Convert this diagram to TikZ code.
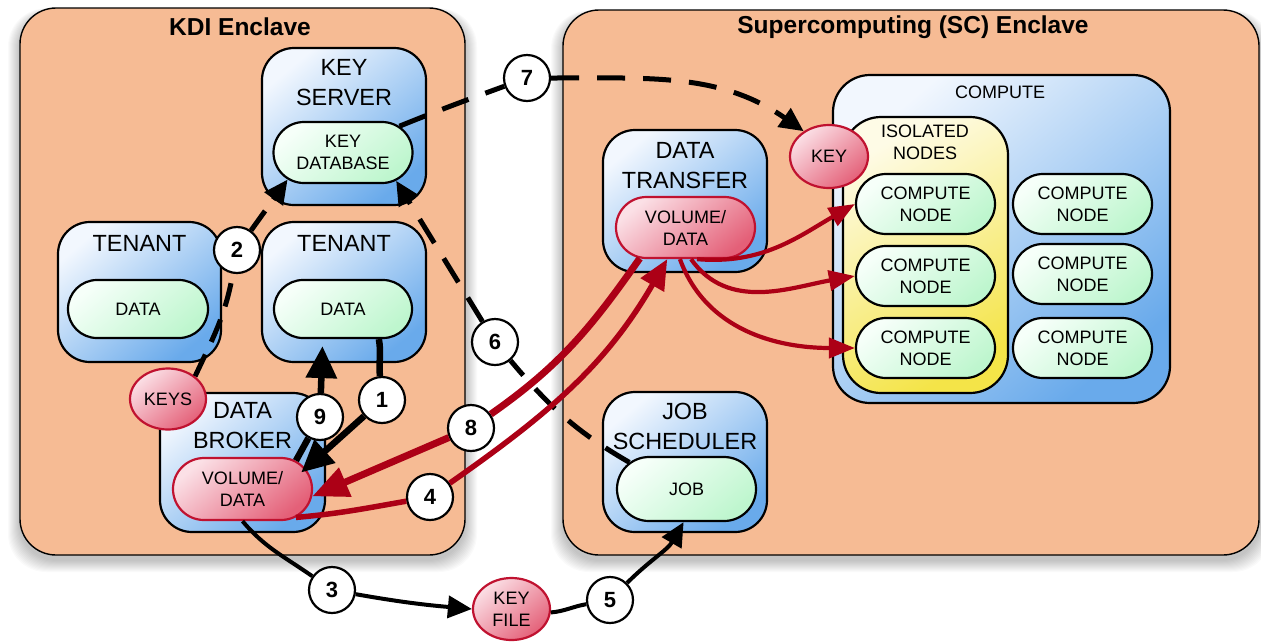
\documentclass[tikz,border=0pt]{standalone}
\usepackage{fontspec}
\setmainfont{Liberation Sans}
\usetikzlibrary{arrows.meta,shapes.misc,shapes.geometric}
\definecolor{encl}{RGB}{246,187,148}
\definecolor{blueT}{RGB}{242,247,254}
\definecolor{blueB}{RGB}{105,170,235}
\definecolor{greenT}{RGB}{246,255,249}
\definecolor{greenB}{RGB}{190,246,206}
\definecolor{redT}{RGB}{251,224,230}
\definecolor{redB}{RGB}{228,96,120}
\definecolor{redD}{RGB}{192,18,48}
\definecolor{yelT}{RGB}{254,251,230}
\definecolor{yelB}{RGB}{244,228,72}
\definecolor{arrRed}{RGB}{172,0,22}
\newcommand\encfont{\bfseries\fontsize{24.5}{28}\selectfont}
\newcommand\boxfont{\fontsize{23.4}{30}\selectfont}
\newcommand\infont{\fontsize{18}{22}\selectfont}
\newcommand\numfont{\bfseries\fontsize{22}{22}\selectfont}
\begin{document}
\begin{tikzpicture}[x=1pt,y=-1pt,
  enc/.style={rectangle,fill=encl,draw=black,line width=1.4pt,rounded corners=36pt,inner sep=0pt},
  bbox/.style={rectangle,rounded corners=32pt,draw=black,line width=2.2pt,top color=blueT,bottom color=blueB,shading angle=40,inner sep=0pt},
  ybox/.style={rectangle,rounded corners=38pt,draw=black,line width=2.2pt,top color=yelT,bottom color=yelB,shading angle=30,inner sep=0pt},
  gbox/.style={rounded rectangle,draw=black,line width=2.2pt,top color=greenT,bottom color=greenB,shading angle=40,inner sep=0pt,align=center,font=\infont,minimum width=139pt,minimum height=61pt},
  rbox/.style={rounded rectangle,draw=redD,line width=2.2pt,top color=redT,bottom color=redB,shading angle=40,inner sep=0pt,align=center,font=\infont,minimum width=139pt,minimum height=61pt},
  rell/.style={ellipse,draw=redD,line width=2.2pt,top color=redT,bottom color=redB,shading angle=40,inner sep=0pt,align=center,font=\infont,minimum width=77pt,minimum height=62pt},
  num/.style={circle,draw=black,fill=white,line width=2.2pt,minimum size=46pt,inner sep=0pt,font=\numfont},
  btxt/.style={align=center,inner sep=0pt,font=\boxfont},
  itxt/.style={align=center,inner sep=0pt,font=\infont},
  etxt/.style={inner sep=0pt,font=\encfont},
  dashk/.style={draw=black,line width=5pt,dash pattern=on 28pt off 18pt,-{Triangle[length=24pt,width=22pt]}},
  blkthick/.style={draw=black,line width=6.5pt,-{Triangle[length=32pt,width=30pt]}},
  blkmed/.style={draw=black,line width=4pt,-{Triangle[length=24pt,width=22pt]}},
  redthick/.style={draw=arrRed,line width=7pt,-{Triangle[length=36pt,width=30pt]}},
  redmed/.style={draw=arrRed,line width=5.5pt,-{Triangle[length=30pt,width=26pt]}},
  redthin/.style={draw=arrRed,line width=4.2pt,-{Triangle[length=26pt,width=20pt]}}
]
\useasboundingbox (0,0) rectangle (1261,641);
\fill[white] (0,0) rectangle (1261,641);
% soft shadows
\foreach \i in {1,...,12}{
  \fill[black,opacity=0.018,rounded corners=38pt] ({20-\i},{12-0.3*\i}) rectangle ({465+\i},{560+\i});
  \fill[black,opacity=0.018,rounded corners=38pt] ({563-\i},{14-0.3*\i}) rectangle ({1259+\i},{560+\i});
}
% enclaves
\node[enc,minimum width=445pt,minimum height=547pt] (kdi) at (242.5,281.5) {};
\node[etxt] (kdit) at (240,27) {KDI Enclave};
\node[enc,minimum width=696pt,minimum height=545pt] (sc) at (911,282.5) {};
\node[etxt] (sct) at (913,27) {Supercomputing (SC) Enclave};

% KDI side
\node[bbox,minimum width=164pt,minimum height=157pt] (ks) at (344,126.5) {};
\node[btxt] (kst) at (344,83) {KEY\\SERVER};
\node[gbox] (kdb) at (343,152.5) {KEY\\DATABASE};

\node[bbox,minimum width=163pt,minimum height=140pt] (t1) at (139.5,292) {};
\node[btxt] (t1t) at (139.5,243) {TENANT};
\node[gbox,minimum width=140pt,minimum height=58pt] (t1d) at (138,309) {DATA};

\node[bbox,minimum width=164pt,minimum height=140pt] (t2) at (344,292) {};
\node[btxt] (t2t) at (344,243) {TENANT};
\node[gbox,minimum width=138pt,minimum height=58pt] (t2d) at (343,309) {DATA};

\node[bbox,minimum width=165pt,minimum height=139pt] (db) at (242.5,462.5) {};
\node[btxt] (dbt) at (242.5,425.5) {DATA\\BROKER};
\node[rbox,minimum height=62pt] (dbv) at (242.5,489) {VOLUME/\\DATA};
\node[rell,minimum width=76pt,minimum height=61pt] (keys) at (168,399) {KEYS};

% SC side
\node[bbox,minimum width=164pt,minimum height=142pt] (dt) at (685,201) {};
\node[btxt] (dtt) at (685,166) {DATA\\TRANSFER};
\node[rbox] (dtv) at (685.5,227.5) {VOLUME/\\DATA};

\node[bbox,rounded corners=37pt,minimum width=337pt,minimum height=328pt] (comp) at (1001.5,239) {};
\node[itxt] (compt) at (1000,92) {COMPUTE};
\node[ybox,minimum width=165pt,minimum height=276pt] (iso) at (925.5,255) {};
\node[itxt] (isot) at (925,142.5) {ISOLATED\\NODES};
\node[gbox,minimum height=60pt] (cn1) at (925.5,204) {COMPUTE\\NODE};
\node[gbox,minimum height=60pt] (cn2) at (925.5,276) {COMPUTE\\NODE};
\node[gbox,minimum height=60pt] (cn3) at (925.5,348) {COMPUTE\\NODE};
\node[gbox,minimum height=60pt] (cn4) at (1082.5,204) {COMPUTE\\NODE};
\node[gbox,minimum height=60pt] (cn5) at (1082.5,274) {COMPUTE\\NODE};
\node[gbox,minimum height=60pt] (cn6) at (1082.5,348) {COMPUTE\\NODE};
\node[rell,minimum width=78pt,minimum height=63pt] (key) at (829,156.5) {KEY};

\node[bbox,minimum width=164pt,minimum height=140pt] (js) at (685,462) {};
\node[btxt] (jst) at (685,426) {JOB\\SCHEDULER};
\node[gbox,minimum height=64pt] (job) at (686.5,489) {JOB};

\node[rell] (kf) at (511.5,609) {KEY\\FILE};

% number circles
\node[num] (n1) at (382,400) {1};
\node[num] (n2) at (237,250) {2};
\node[num] (n3) at (332,590) {3};
\node[num] (n4) at (430,497) {4};
\node[num] (n5) at (610,600) {5};
\node[num] (n6) at (495,342) {6};
\node[num] (n7) at (527,78) {7};
\node[num] (n8) at (471,428) {8};
\node[num] (n9) at (320,417) {9};

% connectors
\draw[dashk] (kdb.25) to[out=22,in=200] (n7) to[out=0,in=145] (key.135);
\draw[dashk] (job.155) to[out=150,in=-50] (n6) -- (kdb.-28);
\draw[dashk,dash pattern=on 24pt off 14pt] (keys.40) to[out=65,in=-100] (n2) -- (kdb.206);

\draw[blkthick,shorten >=-6pt] (t2d.-40) to[out=-80,in=95] (n1) -- (dbv.18);
\draw[blkthick,shorten >=7pt] (dbv.28) -- (n9) -- (t2d.-124);

\draw[blkmed] (dbv.south) to[out=-50,in=145] (n3) to[out=-10,in=175] (kf.west);
\draw[blkmed] (kf.-5) to[out=5,in=190] (n5) to[out=45,in=-120] (job.-95);

\draw[redthick] (dtv.214) to[out=235,in=35] (n8) -- (dbv.-6);
\draw[redmed] (dbv.-28) to[out=5,in=190] (n4) to[out=35,in=-120] (dtv.-120);
\draw[redthin] (dtv.-70) to[out=-5,in=210] (cn1.west);
\draw[redthin] (dtv.-80) to[out=-55,in=190] (cn2.west);
\draw[redthin] (dtv.-100) to[out=-70,in=180] (cn3.west);
\end{tikzpicture}
\end{document}
